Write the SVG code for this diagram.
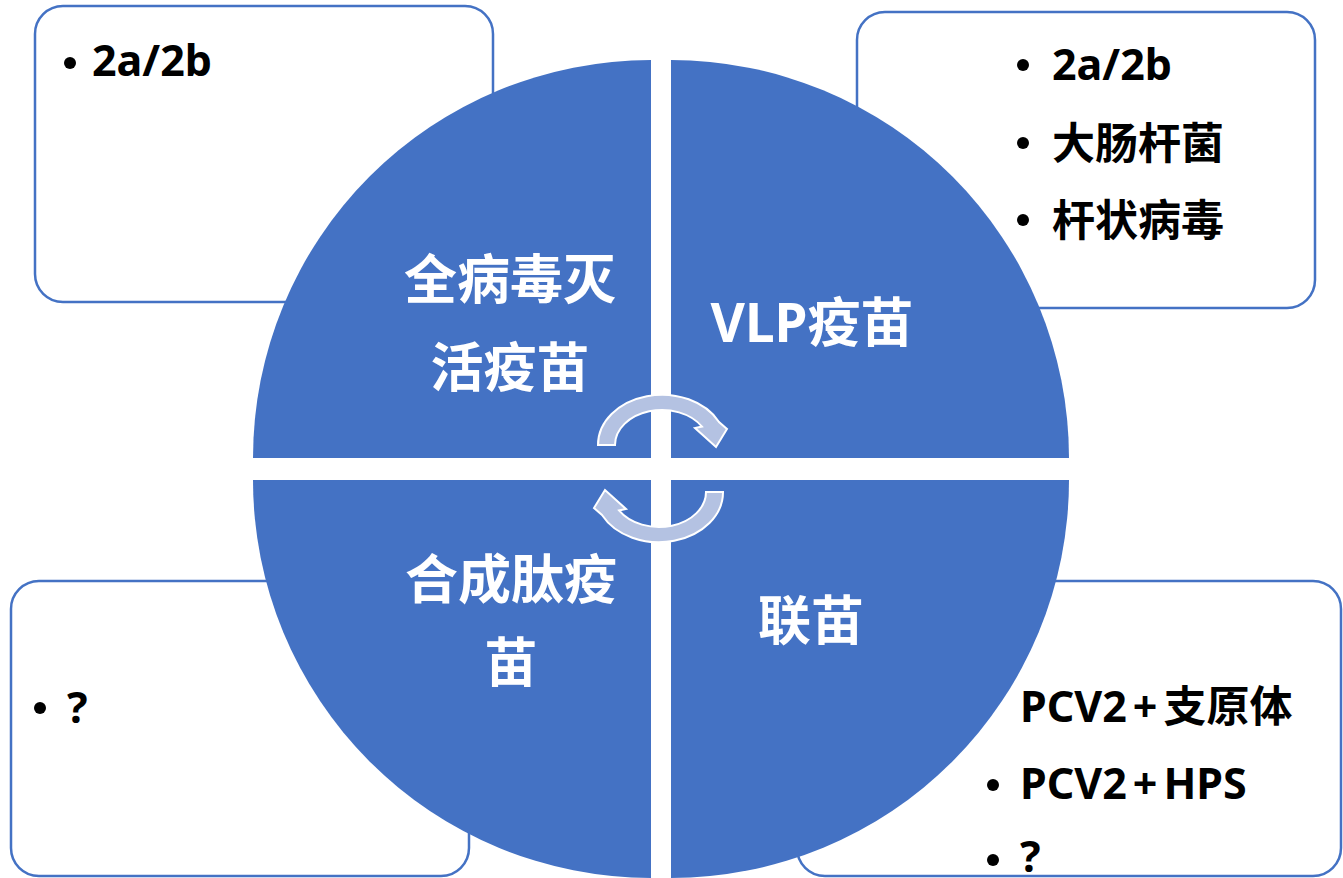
<svg xmlns="http://www.w3.org/2000/svg" width="1343" height="878" viewBox="0 0 1343 878">
  <style>
    .box { fill: #FFFFFF; stroke: #4472C4; stroke-width: 2.5; }
    .quad { fill: #4472C4; }
    .qlabel { font-family: "Noto Sans", "Noto Sans CJK SC", sans-serif; font-weight: bold; font-size: 53px; fill: #FFFFFF; text-anchor: middle; }
    .item { font-family: "Noto Sans", "Noto Sans CJK SC", sans-serif; font-weight: bold; font-size: 43px; fill: #000000; }
    .dot { fill: #000000; }
    .cyc { fill: #B4C2E2; stroke: #FFFFFF; stroke-width: 2; stroke-linejoin: miter; }
  </style>
  <rect x="0" y="0" width="1343" height="878" fill="#FFFFFF"/>

  <g id="box-top-left">
    <rect class="box" x="35" y="6" width="458" height="296" rx="28" ry="28"/>
    <circle class="dot" cx="70" cy="63" r="6"/>
    <text class="item" x="92" y="76">2a/2b</text>
  </g>

  <g id="box-top-right">
    <rect class="box" x="857" y="12" width="458" height="296" rx="28" ry="28"/>
    <circle class="dot" cx="1023" cy="65" r="6"/>
    <text class="item" x="1052" y="80">2a/2b</text>
    <circle class="dot" cx="1023" cy="143" r="6"/>
    <text class="item" x="1052" y="159">大肠杆菌</text>
    <circle class="dot" cx="1023" cy="220" r="6"/>
    <text class="item" x="1052" y="236">杆状病毒</text>
  </g>

  <g id="box-bottom-left">
    <rect class="box" x="11" y="581" width="458" height="295" rx="28" ry="28"/>
    <circle class="dot" cx="40" cy="708" r="6"/>
    <text class="item" x="67" y="723">?</text>
  </g>

  <g id="box-bottom-right">
    <rect class="box" x="797" y="581" width="544" height="295" rx="28" ry="28"/>
    <text class="item" x="1020" y="722">PCV2<tspan dx="6">+</tspan><tspan dx="6">支原体</tspan></text>
    <circle class="dot" cx="993" cy="785" r="6"/>
    <text class="item" x="1020" y="799">PCV2<tspan dx="6">+</tspan><tspan dx="6">HPS</tspan></text>
    <circle class="dot" cx="993" cy="860" r="6"/>
    <text class="item" x="1020" y="872">?</text>
  </g>

  <g id="quad-top-left">
    <path class="quad" d="M651,458 L253,458 A398,398 0 0 1 651,60 Z"/>
    <text class="qlabel" x="510" y="299">全病毒灭</text>
    <text class="qlabel" x="510" y="387">活疫苗</text>
  </g>

  <g id="quad-top-right">
    <path class="quad" d="M671,458 L671,60 A398,398 0 0 1 1069,458 Z"/>
    <text class="qlabel" x="812" y="342">VLP疫苗</text>
  </g>

  <g id="quad-bottom-left">
    <path class="quad" d="M651,480 L651,878 A398,398 0 0 1 253,480 Z"/>
    <text class="qlabel" x="511" y="599">合成肽疫</text>
    <text class="qlabel" x="511" y="682">苗</text>
  </g>

  <g id="quad-bottom-right">
    <path class="quad" d="M671,480 L1069,480 A398,398 0 0 1 671,878 Z"/>
    <text class="qlabel" x="811" y="640">联苗</text>
  </g>

  <g id="connectors">
    <path class="cyc" d="M598,445 A64,50 0 0 1 719,422 L727,429 L716,447 L695,428 L702,426.6 A47,35 0 0 0 615,445 Z"/>
    <path class="cyc" transform="rotate(180 660.5 468.5)" d="M598,445 A64,50 0 0 1 719,422 L727,429 L716,447 L695,428 L702,426.6 A47,35 0 0 0 615,445 Z"/>
  </g>
</svg>
